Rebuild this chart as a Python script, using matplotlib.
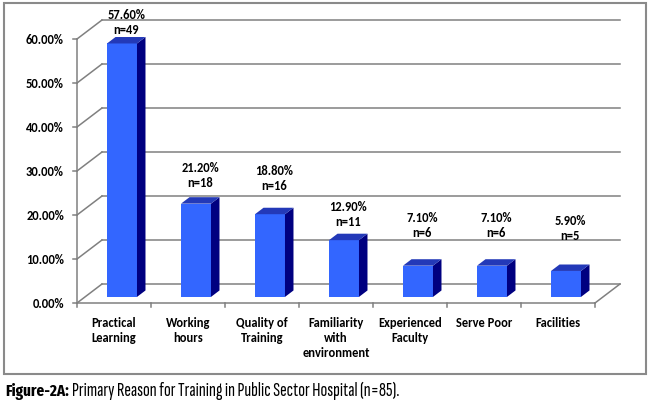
import matplotlib
matplotlib.use('Agg')
import matplotlib.pyplot as plt
from matplotlib.patches import Polygon, Rectangle

# data
categories = ['Practical\nLearning', 'Working\nhours', 'Quality of\nTraining',
              'Familiarity\nwith\nenvironment', 'Experienced\nFaculty',
              'Serve Poor', 'Facilities']
percent = [57.6, 21.2, 18.8, 12.9, 7.1, 7.1, 5.9]
counts = [49, 18, 16, 11, 6, 6, 5]
yticks = [0, 10, 20, 30, 40, 50, 60]

# label heights (in % units, front plane) as placed in the original
label_y = [64.1, 29.4, 28.8, 20.6, 18.0, 18.0, 17.3]

# fake 3d layout: depth offset of the back wall, bar depth range
DX = 25 / 74.0
DY = 19 / 4.4
f0, f1 = 0.32, 0.66
bw = 0.405
grid_c = '#808080'
front_c = '#3366FF'
side_c = '#000080'
top_c = '#2339B8'

plt.rcParams['font.family'] = ['Carlito', 'DejaVu Sans']

fig = plt.figure(figsize=(6.5, 4.06), dpi=100)
ax = fig.add_axes([77 / 650, 102 / 406, 518 / 650, 264 / 406])
ax.set_xlim(0, len(categories))
ax.set_ylim(0, 60)
ax.axis('off')

n = len(categories)

# back wall gridlines + left wall diagonals
for v in yticks:
    ax.plot([DX, n + DX], [v + DY, v + DY], color=grid_c, lw=1.1, clip_on=False, zorder=1)
    ax.plot([0, DX], [v, v + DY], color=grid_c, lw=1.1, clip_on=False, zorder=1)
    ax.plot([-0.055, 0], [v, v], color=grid_c, lw=1.1, clip_on=False, zorder=1)
    ax.text(-0.176, v, '%.2f%%' % v, ha='right', va='center', fontsize=9,
            fontweight='bold')

# front axis line, floor edges, category ticks
ax.plot([0, 0], [0, 60], color=grid_c, lw=1.1, clip_on=False, zorder=1)
ax.plot([0, n], [0, 0], color=grid_c, lw=1.1, clip_on=False, zorder=1)
ax.plot([n, n + DX], [0, DY], color=grid_c, lw=1.1, clip_on=False, zorder=1)
for i in range(n + 1):
    ax.plot([i, i], [0, -0.9], color=grid_c, lw=1.1, clip_on=False, zorder=1)

# bars
for i, v in enumerate(percent):
    cx = i + 0.5 + f0 * DX
    x0 = cx - bw / 2
    x1 = cx + bw / 2
    y0 = f0 * DY
    y1 = v + f0 * DY
    ddx = (f1 - f0) * DX
    ddy = (f1 - f0) * DY
    front = Polygon([(x0, y0), (x1, y0), (x1, y1), (x0, y1)], closed=True,
                    facecolor=front_c, edgecolor='none', zorder=3, clip_on=False)
    side = Polygon([(x1, y0), (x1 + ddx, y0 + ddy), (x1 + ddx, y1 + ddy), (x1, y1)],
                   closed=True, facecolor=side_c, edgecolor='none', zorder=3, clip_on=False)
    top = Polygon([(x0, y1), (x1, y1), (x1 + ddx, y1 + ddy), (x0 + ddx, y1 + ddy)],
                  closed=True, facecolor=top_c, edgecolor='none', zorder=3, clip_on=False)
    ax.add_patch(front)
    ax.add_patch(side)
    ax.add_patch(top)
    ax.text(cx + ddx / 2, label_y[i] - 0.2, '%.2f%%\nn=%d' % (v, counts[i]),
            ha='center', va='center', fontsize=9, fontweight='bold',
            linespacing=1.3, zorder=4)

# category labels
for i, c in enumerate(categories):
    ax.text(i + 0.5, -3.0, c, ha='center', va='top', fontsize=9,
            fontweight='bold', linespacing=1.3)

# frame around chart
fig.add_artist(Rectangle((4 / 650, 31 / 406), 642 / 650, 371 / 406,
                         transform=fig.transFigure, fill=False,
                         edgecolor='#8a8a8a', lw=1.5))

# caption, each part fitted to the width it has in the original
r = fig.canvas.get_renderer()
t1 = fig.text(5 / 650, 10 / 406, 'Figure-2A:', fontsize=12, fontweight='bold',
              family=['Fira Sans Extra Condensed', 'DejaVu Sans'],
              va='baseline', ha='left')
t1.set_fontsize(12 * 64 / t1.get_window_extent(r).width)
t2 = fig.text(72 / 650, 10 / 406,
              'Primary Reason for Training in Public Sector Hospital (n=85).',
              fontsize=12, family=['Sofia Sans Extra Condensed', 'DejaVu Sans'],
              va='baseline', ha='left')
t2.set_fontsize(12 * 330 / t2.get_window_extent(r).width)

fig.savefig('out.png', dpi=100)
